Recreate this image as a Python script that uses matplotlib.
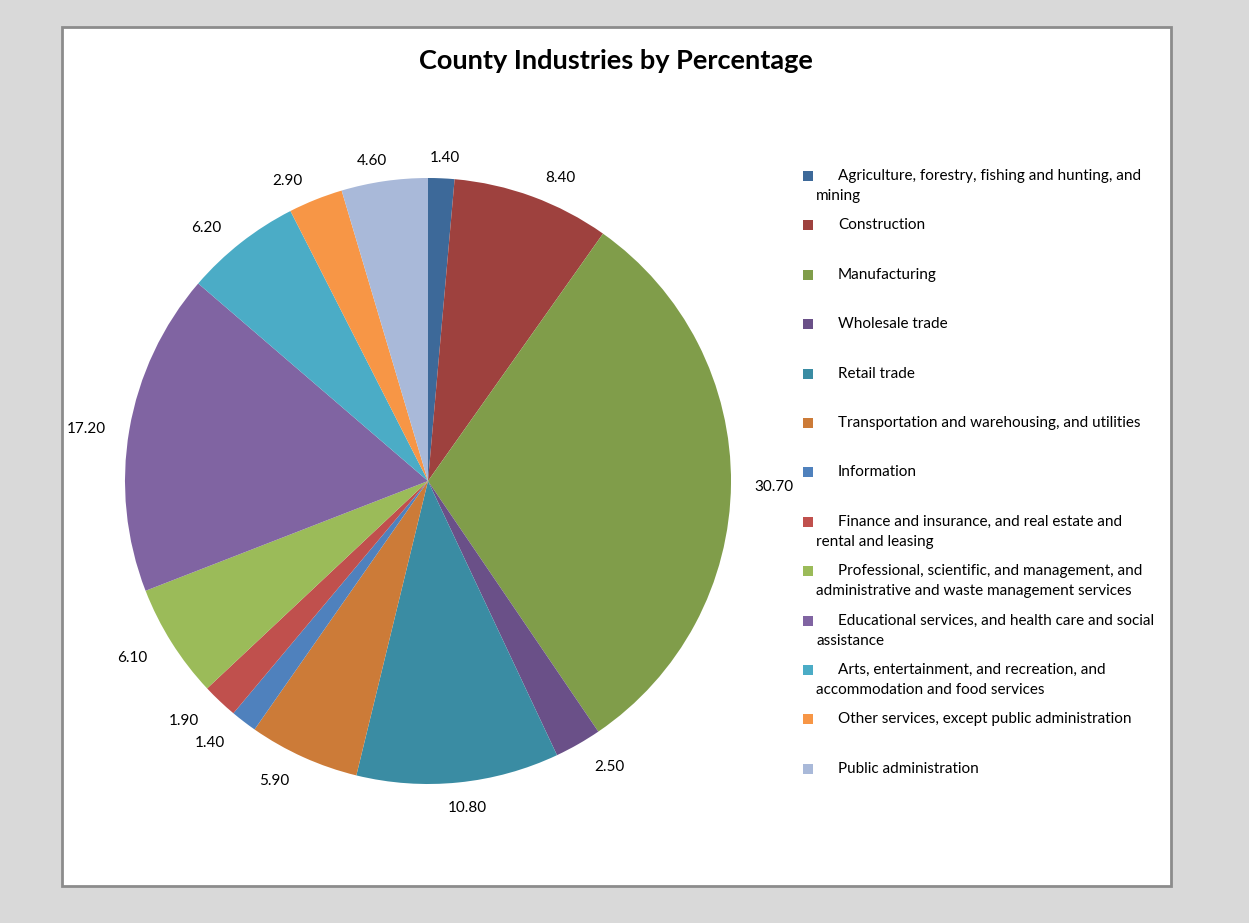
import numpy as np
import matplotlib
matplotlib.use("Agg")
import matplotlib.pyplot as plt
from matplotlib.patches import Rectangle

plt.rcParams['font.family'] = ['Lato', 'DejaVu Sans']

title = "County Industries by Percentage"
categories = [
    "Agriculture, forestry, fishing and hunting, and\nmining",
    "Construction",
    "Manufacturing",
    "Wholesale trade",
    "Retail trade",
    "Transportation and warehousing, and utilities",
    "Information",
    "Finance and insurance, and real estate and\nrental and leasing",
    "Professional, scientific, and management, and\nadministrative and waste management services",
    "Educational services, and health care and social\nassistance",
    "Arts, entertainment, and recreation, and\naccommodation and food services",
    "Other services, except public administration",
    "Public administration",
]
values = [1.4, 8.4, 30.7, 2.5, 10.8, 5.9, 1.4, 1.9, 6.1, 17.2, 6.2, 2.9, 4.6]
colors = ["#3D6999", "#9E413E", "#809D4A", "#6A5088", "#3A8CA3", "#CC7B38",
          "#4F81BD", "#C0504D", "#9BBB59", "#8064A2", "#4BACC6", "#F79646",
          "#A9B9D9"]

W, H = 1249, 923
fig = plt.figure(figsize=(W / 100, H / 100), dpi=100)
fig.patch.set_facecolor("#D9D9D9")

def fx(x):
    return x / W

def fy(y):
    return 1 - y / H

# white chart panel
fig.add_artist(Rectangle((fx(62), fy(886)), fx(1171) - fx(62), fy(27) - fy(886),
                         transform=fig.transFigure, facecolor="white",
                         edgecolor="#8C8C8C", linewidth=2.0, zorder=0))

fig.text(fx(616), fy(61), title, ha="center", va="center",
         fontsize=19.5, fontweight="bold", color="black")

# pie axes
cx, cy, R = 428, 481, 303
ext = 1.4
half = ext * R
ax = fig.add_axes([fx(cx - half), fy(cy + half), 2 * half / W, 2 * half / H])

wedges, _ = ax.pie(values, colors=colors, startangle=90, counterclock=False,
                   radius=1.0, wedgeprops=dict(linewidth=0))
ax.set_xlim(-ext, ext)
ax.set_ylim(-ext, ext)
ax.set_aspect("equal")
ax.axis("off")

# data labels placed outside the pie (Excel "outside end" style)
total = sum(values)
cum = 0.0
for v in values:
    mid = (cum + v / 2) / total
    cum += v
    ang = np.deg2rad(90 - 360 * mid)
    dx, dy = np.cos(ang), np.sin(ang)
    px = 326 * dx + 20 * np.clip(dx / 0.3, -1, 1)
    py = 326 * dy - 3
    ax.text(px / R, py / R, f"{v:.2f}", ha="center", va="center",
            fontsize=11, color="black")

# legend
ly0 = 176
lstep = 49.4
for i, (lab, col) in enumerate(zip(categories, colors)):
    y = ly0 + i * lstep
    fig.add_artist(Rectangle((fx(803), fy(y + 5)), 10 / W, 10 / H,
                             transform=fig.transFigure, facecolor=col,
                             edgecolor="none"))
    lines = lab.split("\n")
    fig.text(fx(838), fy(y), lines[0], ha="left", va="center",
             fontsize=11, color="black")
    for j, extra in enumerate(lines[1:]):
        fig.text(fx(816), fy(y + 20 * (j + 1)), extra, ha="left", va="center",
                 fontsize=11, color="black")

fig.savefig("out.png", dpi=100, facecolor=fig.get_facecolor())
